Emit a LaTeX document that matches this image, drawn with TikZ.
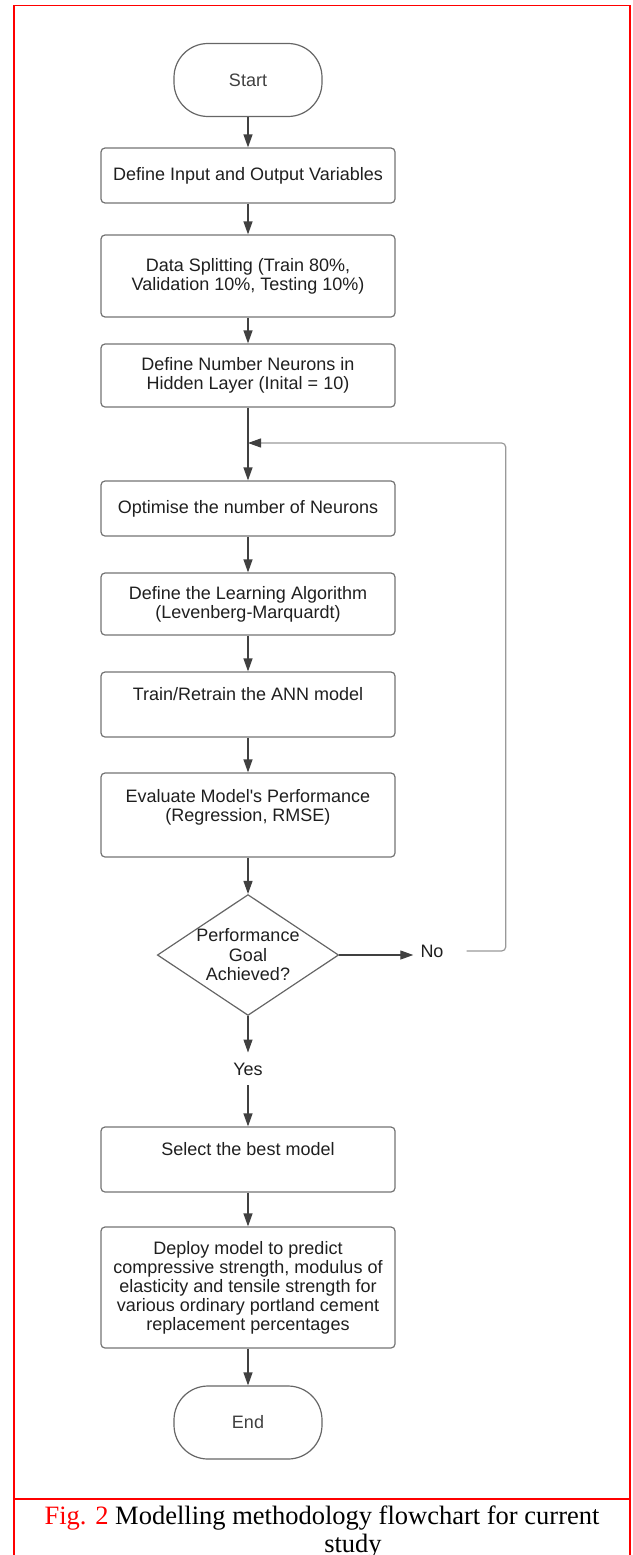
\documentclass[tikz,border=0pt]{standalone}
\usepackage{fontspec}
\setmainfont{Liberation Sans}
\newfontfamily\capfont{Liberation Serif}
\usepackage{tikz}
\usetikzlibrary{shapes.geometric,arrows.meta}

\begin{document}
\begin{tikzpicture}[x=1pt, y=-1pt, font=\fontsize{18}{19}\selectfont, text=black!88]
  % ANN modelling steps top to bottom; the goal check loops back above the neuron step
  \tikzset{stepbox/.style={draw=black!55, line width=1.2pt, rounded corners=4pt, minimum width=294pt, align=center, inner sep=2pt},
    termbox/.style={draw=black!60, line width=1.2pt, rounded corners=34pt, minimum width=148pt, minimum height=73pt, text=black!75},
    lift/.style={text depth=#1},
    flow/.style={draw=black!75, line width=1.2pt, -{Triangle[length=13pt, width=9pt]}},
    back/.style={draw=black!40, line width=1.2pt, rounded corners=4pt, -{Triangle[length=13pt, width=9pt, color=black!75]}}}
  \useasboundingbox (0,0) rectangle (632,1555);
  \draw[red, line width=1.3pt] (14,1555) -- (14,5.5) -- (630,5.5) -- (630,1555);
  \draw[red, line width=1.3pt] (14,1499) -- (630,1499);

  \node[termbox] (start) at (248,80) {Start};
  \node[stepbox, minimum height=55pt] (inp) at (248,175.5) {Define Input and Output Variables};
  \node[stepbox, minimum height=82pt] (split) at (248,276) {Data Splitting (Train 80\%,\\Validation 10\%, Testing 10\%)};
  \node[stepbox, minimum height=63pt] (hidden) at (248,375.5) {Define Number Neurons in\\Hidden Layer (Inital = 10)};
  \coordinate (merge) at (248,443);
  \node[stepbox, minimum height=55pt] (optim) at (248,508.5) {Optimise the number of Neurons};
  \node[stepbox, minimum height=62pt] (algo) at (248,604) {Define the Learning Algorithm\\(Levenberg-Marquardt)};
  \node[stepbox, minimum height=65pt, lift=21pt] (train) at (248,704.5) {Train/Retrain the ANN model};
  \node[stepbox, minimum height=84pt, lift=19pt] (eval) at (248,815) {Evaluate Model\textquotesingle s Performance\\(Regression, RMSE)};
  \node[diamond, draw=black!60, line width=1.2pt, aspect=1.5, inner sep=0pt, minimum width=180pt, minimum height=120pt,
    align=center, font=\fontsize{18}{19.5}\selectfont] (goal) at (248,955) {Performance\\Goal\\Achieved?};
  \node[inner xsep=7pt] (no) at (432,951) {No};
  \node[inner ysep=10pt] (yes) at (248,1069) {Yes};
  \node[stepbox, minimum height=65pt, lift=21pt] (best) at (248,1159.5) {Select the best model};
  \node[stepbox, minimum height=121pt] (deploy) at (248,1287.5) {Deploy model to predict\\compressive strength, modulus of\\elasticity and tensile strength for\\various ordinary portland cement\\replacement percentages};
  \node[termbox] (end) at (248,1422.5) {End};

  \foreach \a/\b in {start/inp, inp/split, split/hidden, hidden/optim, optim/algo, algo/train, train/eval,
    eval/goal, goal/yes, yes/best, best/deploy, deploy/end}
    \draw[flow] (\a) -- (\b);
  \draw[flow] (goal.east) -- (goal.east -| no.west);
  \draw[back] ([xshift=16pt]no.east) -- ++(39,0) |- (merge);

  \node[anchor=north, inner sep=0pt, align=center, font=\capfont\fontsize{26.5}{28}\selectfont, text=black] (cap) at (322,1506)
    {\textcolor{red}{Fig. 2} Modelling methodology flowchart for current\\\hspace*{62pt}study};
\end{tikzpicture}
\end{document}
